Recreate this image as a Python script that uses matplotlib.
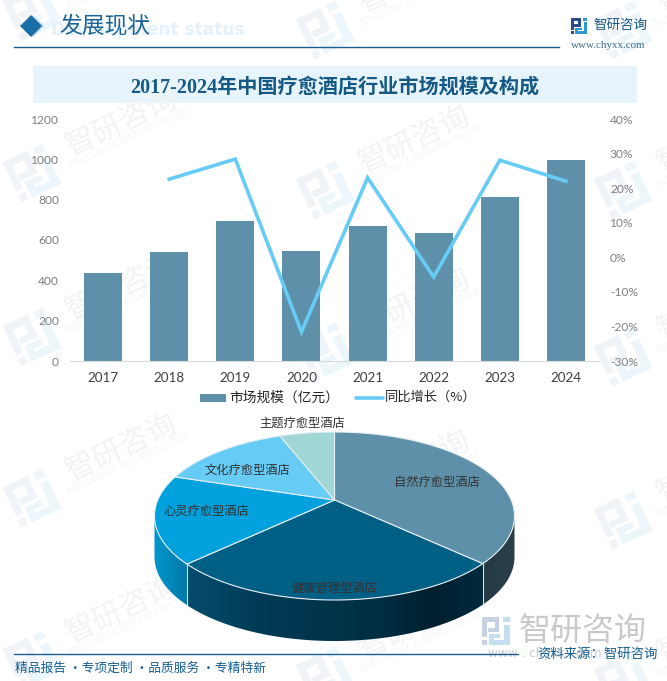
import numpy as np
import matplotlib
matplotlib.use("Agg")
import matplotlib.pyplot as plt
from matplotlib.patches import Polygon, Rectangle
from matplotlib.colors import to_rgb

years = ["2017", "2018", "2019", "2020", "2021", "2022", "2023", "2024"]
market_size = [436, 540, 695, 545, 670, 635, 815, 997]
growth = [np.nan, 22.6, 28.4, -21.6, 23.0, -5.7, 28.1, 22.0]
left_ticks = [0, 200, 400, 600, 800, 1000, 1200]
right_ticks = [-30, -20, -10, 0, 10, 20, 30, 40]
pie_labels = ["自然疗愈型酒店", "健康管理型酒店", "心灵疗愈型酒店", "文化疗愈型酒店", "主题疗愈型酒店"]
pie_shares = [34.6, 30.7, 17.4, 12.4, 4.9]
pie_colors = ["#5e91a9", "#005f85", "#00a1dc", "#66ccf5", "#a0d6d5"]

W, H, DPI = 667, 681, 100
CJK = "Noto Sans CJK SC"
LAT = ["Lato", CJK]
SER = ["Liberation Serif", CJK]
plt.rcParams["font.family"] = [CJK, "DejaVu Sans"]
px = lambda p: p * 72 / DPI

fig = plt.figure(figsize=(W / DPI, H / DPI), dpi=DPI, facecolor="white")

# background layer in pixel coordinates
bg = fig.add_axes([0, 0, 1, 1], zorder=0)
bg.set_xlim(0, W); bg.set_ylim(H, 0); bg.axis("off")


def logo(ax, cx, cy, size, rot, c1, c2, z=1):
    rects1 = [(0, 0, .62, .17), (.45, 0, .17, .55), (.2, .4, .42, .15), (0, 0, .17, .72), (0, .82, .17, .18)]
    rects2 = [(.76, 0, .24, .17), (.8, .28, .2, .72), (.26, .83, .74, .17), (.26, .62, .17, .3), (.26, .62, .4, .14)]
    a = np.deg2rad(rot)
    R = np.array([[np.cos(a), -np.sin(a)], [np.sin(a), np.cos(a)]])
    for rs, col in ((rects1, c1), (rects2, c2)):
        for x, y, w, h in rs:
            pts = np.array([[x, y], [x + w, y], [x + w, y + h], [x, y + h]]) - .5
            pts = pts @ R.T * size + [cx, cy]
            ax.add_patch(Polygon(pts, closed=True, fc=col, ec="none", zorder=z))


for col_x, rows in ((32, (12, 173, 337, 498, 660)),
                    (325, (30, 190, 352, 514, 676)),
                    (623, (30, 190, 357, 520, 680))):
    for row_y in rows:
        logo(bg, col_x, row_y, 44, -25, "#f0f4f8", "#ecf6fb")
        bg.text(col_x + 90, row_y - 50, "智研咨询", fontsize=px(30), color="#f3f3f3",
                rotation=25, ha="center", va="center", rotation_mode="anchor", clip_on=True)
        bg.text(col_x + 95, row_y - 33, "INTELLIGENCE RESEARCH GROUP", fontsize=px(8), color="#f5f5f5",
                rotation=25, ha="center", va="center", rotation_mode="anchor", clip_on=True,
                family="DejaVu Sans")

# header
bg.text(245, 30, "Development status", fontsize=px(17), color="#e4f1fa", weight="bold",
        ha="right", va="center", family="DejaVu Sans")
bg.add_patch(Polygon([[33, 15], [44, 26], [33, 37], [22, 26]], fc="#b9d6ea", ec="none", zorder=2))
bg.add_patch(Polygon([[31, 15], [42, 26], [31, 37], [20, 26]], fc="#1a6fa8", ec="none", zorder=2))
bg.text(105, 26, "发展现状", fontsize=px(22.8), color="#1a6496", ha="center", va="center", zorder=3)
bg.plot([14, 559], [46.5, 46.5], color="#1a5f8f", lw=1.0)
logo(bg, 579, 26, 16, 0, "#2b4a86", "#2a9ad0", z=3)
bg.text(620.5, 25, "智研咨询", fontsize=px(13.5), color="#1c5a86", ha="center", va="center")
bg.text(608.5, 45, "www.chyxx.com", fontsize=px(11), color="#3d6a8c", ha="center", va="center", family=SER)
bg.add_patch(Rectangle((33, 66), 604, 37, fc="#e8f4fb", ec="none", zorder=1.5))
bg.text(335, 88, "2017-2024年中国疗愈酒店行业市场规模及构成", fontsize=px(20.2), color="#155a85",
        ha="center", va="center", weight="bold", family=SER, zorder=3)

# bar and line chart
ax = fig.add_axes([70 / W, 1 - 361 / H, 529 / W, 242 / H], zorder=2)
ax.patch.set_alpha(0)
x = np.arange(len(years))
bars = ax.bar(x, market_size, width=0.575, color="#5e91a9", label="市场规模（亿元）")
ax.set_xlim(-0.5, 7.5); ax.set_ylim(0, 1200)
ax.set_yticks(left_ticks)
ax.set_xticks(x, years)
for s in ("top", "right", "left"):
    ax.spines[s].set_visible(False)
ax.spines["bottom"].set_color("#d9d9d9")
ax.tick_params(axis="both", length=0)
ax.tick_params(axis="x", pad=px(11), labelsize=px(13.5), labelcolor="#404040")
ax.tick_params(axis="y", pad=px(11), labelsize=px(12), labelcolor="#7f7f7f")
for t in ax.get_xticklabels() + ax.get_yticklabels():
    t.set_fontfamily(LAT)

ax2 = ax.twinx()
ax2.patch.set_alpha(0)
line, = ax2.plot(x, np.array(growth), color="#66ccf5", lw=2.6, label="同比增长（%）", solid_joinstyle="miter")
ax2.set_ylim(-30, 40)
ax2.set_yticks(right_ticks, [f"{v}%" for v in right_ticks])
for s in ax2.spines.values():
    s.set_visible(False)
ax2.tick_params(axis="y", length=0, pad=px(11), labelsize=px(12), labelcolor="#7f7f7f")
for t in ax2.get_yticklabels():
    t.set_fontfamily(LAT)

# foreground layer in pixel coordinates
fg = fig.add_axes([0, 0, 1, 1], zorder=3)
fg.set_xlim(0, W); fg.set_ylim(H, 0); fg.axis("off"); fg.patch.set_alpha(0)

# legend
fg.add_patch(Rectangle((200, 394), 26, 7.5, fc="#5e91a9", ec="none"))
fg.text(229, 397.5, "市场规模（亿元）", fontsize=px(13.7), color="#262626", va="center")
fg.plot([356, 383], [398, 398], color="#66ccf5", lw=2.6, solid_capstyle="round")
fg.text(385, 397.5, "同比增长（%）", fontsize=px(13.2), color="#262626", va="center")

# 3D-looking pie
cx, cy, rx, ry, apex_y, depth = 334.5, 516, 180, 84, 500, 41
edges = np.cumsum([0] + pie_shares) / sum(pie_shares) * 2 * np.pi


def rim(t):
    return cx + rx * np.sin(t), cy - ry * np.cos(t)


# side wall: a horizontal gradient image clipped to the wall's outline
x_r, _ = rim(edges[1])
x_l, _ = rim(edges[2])
stops = [(cx - rx, "#0096cc"), (x_l - 0.01, "#0079a8"), (x_l, "#064c6e"), (x_l + 80, "#003a54"),
         (cx + 40, "#002f44"), (cx + 100, "#00202f"), (x_r - 0.01, "#012a3d"), (x_r, "#243a45"),
         (cx + rx, "#2a3f4a")]
grad_x = np.arange(int(cx - rx) - 1, int(cx + rx) + 2) + 0.5
stop_x = [s[0] for s in stops]
stop_c = np.array([to_rgb(s[1]) for s in stops])
grad = np.stack([np.interp(grad_x, stop_x, stop_c[:, i]) for i in range(3)], axis=-1)[None, :, :]
im = fg.imshow(grad, extent=(grad_x[0] - .5, grad_x[-1] + .5, 660, 500), aspect="auto",
               interpolation="nearest", zorder=2)
fg.set_xlim(0, W); fg.set_ylim(H, 0)
arc = np.linspace(np.pi / 2, 3 * np.pi / 2, 240)
ax_, ay_ = rim(arc)
wall = Polygon(np.column_stack([np.r_[ax_, ax_[::-1]], np.r_[ay_, ay_[::-1] + depth]]),
               closed=True, fc="none", ec="none", transform=fg.transData)
fg.add_patch(wall)
im.set_clip_path(wall)
for e in (edges[1], edges[2]):
    xe, ye = rim(e)
    fg.plot([xe, xe], [ye, ye + depth], color="#d5dfe5", lw=0.8, zorder=3)

for i, col in enumerate(pie_colors):
    t = np.linspace(edges[i], edges[i + 1], 120)
    xs, ys = rim(t)
    pts = np.column_stack([np.r_[cx, xs], np.r_[apex_y, ys]])
    fg.add_patch(Polygon(pts, closed=True, fc=col, ec="#e6eef2", lw=0.8, zorder=4))

pie_label_xy = [(437, 482), (334, 588), (206, 511), (247, 470), (302, 423)]
for lab, (lx, ly) in zip(pie_labels, pie_label_xy):
    fg.text(lx, ly, lab, fontsize=px(12.3), color="#333333", ha="center", va="center", zorder=6)

# footer
logo(fg, 496, 631, 28, 0, "#c7d1e4", "#c3dff0", z=1)
fg.text(583, 631, "智研咨询", fontsize=px(32), color="#c9c9c9", ha="center", va="center", zorder=1)
fg.text(545, 654, "www . chyxx . com", fontsize=px(12), color="#cccccc", ha="center", va="center",
        family="DejaVu Sans", zorder=1)
fg.plot([14, 518], [653.5, 653.5], color="#1a5f8f", lw=1.0, zorder=2)
fg.text(598, 654, "资料来源：智研咨询", fontsize=px(13.4), color="#155f8f", ha="center", va="center", zorder=3)
fg.text(15, 668, "精品报告 ·专项定制 ·品质服务 ·专精特新", fontsize=px(12.8), color="#155f8f",
        ha="left", va="center", zorder=3)

fig.savefig("out.png", dpi=DPI)
